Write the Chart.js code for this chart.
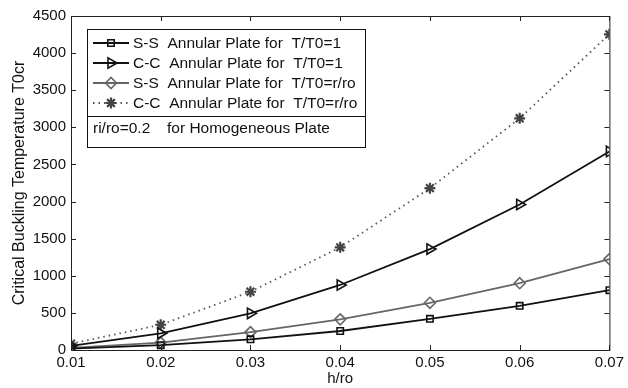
<!DOCTYPE html>
<html>
<head>
<meta charset="utf-8">
<script src="https://cdn.jsdelivr.net/npm/chart.js@4.4.1/dist/chart.umd.min.js"></script>
<style>
  html, body { margin: 0; padding: 0; background: #fff; }
  #wrap { width: 628px; height: 388px; }
</style>
</head>
<body>
<div id="wrap"><canvas id="buckling-chart" width="628" height="388"></canvas></div>
<script>
// values
const hRatio = [0.01, 0.02, 0.03, 0.04, 0.05, 0.06, 0.07];
const ssUniform = [18, 65, 144, 256, 420, 595, 806];
const ccUniform = [55, 225, 494, 876, 1360, 1960, 2675];
const ssLinear = [28, 100, 240, 413, 636, 900, 1225];
const ccLinear = [85, 340, 785, 1383, 2180, 3122, 4253];
const yTicks = [0, 500, 1000, 1500, 2000, 2500, 3000, 3500, 4000, 4500];
const xTicks = [0.01, 0.02, 0.03, 0.04, 0.05, 0.06, 0.07];
const legendLabels = [
  'S-S  Annular Plate for  T/T0=1',
  'C-C  Annular Plate for  T/T0=1',
  'S-S  Annular Plate for  T/T0=r/ro',
  'C-C  Annular Plate for  T/T0=r/ro'
];
const noteLeft = 'ri/ro=0.2';
const noteRight = 'for Homogeneous Plate';

const FONT = '"Liberation Sans", Arial, sans-serif';

const toPoints = vals => vals.map((v, i) => ({ x: hRatio[i], y: v }));

const datasets = [
  {
    label: legendLabels[0], data: toPoints(ssUniform),
    borderColor: '#111', borderWidth: 1.8, pointStyle: 'rect', pointRadius: 4.5,
    pointBorderColor: '#111', pointBackgroundColor: 'rgba(0,0,0,0)', pointBorderWidth: 1.6
  },
  {
    label: legendLabels[1], data: toPoints(ccUniform),
    borderColor: '#111', borderWidth: 1.8, pointStyle: 'triangle', pointRotation: 90, pointRadius: 6,
    pointBorderColor: '#111', pointBackgroundColor: 'rgba(0,0,0,0)', pointBorderWidth: 1.6
  },
  {
    label: legendLabels[2], data: toPoints(ssLinear),
    borderColor: '#666', borderWidth: 1.8, pointStyle: 'rectRot', pointRadius: 5.5,
    pointBorderColor: '#666', pointBackgroundColor: 'rgba(0,0,0,0)', pointBorderWidth: 1.6
  },
  {
    label: legendLabels[3], data: toPoints(ccLinear),
    borderColor: '#555', borderWidth: 1.8, borderDash: [1.5, 4], pointStyle: 'star', pointRadius: 5.5,
    pointBorderColor: '#444', pointBackgroundColor: '#444', pointBorderWidth: 2.2
  }
];

// box, inward ticks and the framed legend, MATLAB style
const matlabFrame = {
  id: 'matlabFrame',
  afterDatasetsDraw(chart) {
    const { ctx, chartArea: a, scales } = chart;
    ctx.save();
    ctx.strokeStyle = '#222';
    ctx.lineWidth = 1;
    ctx.strokeRect(a.left + 0.5, a.top + 0.5, a.right - a.left, a.bottom - a.top);
    ctx.beginPath();
    xTicks.forEach(t => {
      const x = Math.round(scales.x.getPixelForValue(t)) + 0.5;
      ctx.moveTo(x, a.bottom); ctx.lineTo(x, a.bottom - 5);
      ctx.moveTo(x, a.top); ctx.lineTo(x, a.top + 5);
    });
    yTicks.forEach(t => {
      const y = Math.round(scales.y.getPixelForValue(t)) + 0.5;
      ctx.moveTo(a.left, y); ctx.lineTo(a.left + 5, y);
      ctx.moveTo(a.right, y); ctx.lineTo(a.right - 5, y);
    });
    ctx.stroke();

    // legend
    const bx = 87.5, by = 29.5, bw = 278, bh = 118;
    ctx.fillStyle = '#fff';
    ctx.fillRect(bx, by, bw, bh);
    ctx.strokeStyle = '#111';
    ctx.strokeRect(bx, by, bw, bh);
    ctx.beginPath();
    ctx.moveTo(bx, 116.5); ctx.lineTo(bx + bw, 116.5);
    ctx.stroke();

    ctx.font = '15.5px ' + FONT;
    ctx.textBaseline = 'middle';
    ctx.textAlign = 'left';
    chart.data.datasets.forEach((ds, i) => {
      const y = 43 + i * 20;
      ctx.save();
      ctx.strokeStyle = ds.borderColor;
      ctx.lineWidth = ds.borderWidth;
      ctx.setLineDash(ds.borderDash || []);
      ctx.beginPath();
      ctx.moveTo(93, y); ctx.lineTo(129, y);
      ctx.stroke();
      ctx.setLineDash([]);
      ctx.strokeStyle = ds.pointBorderColor;
      ctx.fillStyle = ds.pointBackgroundColor;
      ctx.lineWidth = ds.pointBorderWidth;
      Chart.helpers.drawPoint(ctx, {
        pointStyle: ds.pointStyle, radius: ds.pointRadius,
        rotation: ds.pointRotation || 0, borderWidth: ds.pointBorderWidth
      }, 111, y);
      ctx.restore();
      ctx.fillStyle = '#111';
      ctx.fillText(ds.label, 133, y + 1);
    });
    ctx.fillStyle = '#111';
    ctx.fillText(noteLeft, 93, 129);
    ctx.fillText(noteRight, 167, 129);
    ctx.restore();
  }
};

new Chart(document.getElementById('buckling-chart'), {
  type: 'line',
  data: { datasets },
  options: {
    responsive: false,
    animation: false,
    layout: { padding: { top: 16, right: 18, left: 0, bottom: 0 } },
    plugins: { legend: { display: false }, tooltip: { enabled: false } },
    scales: {
      x: {
        type: 'linear', min: 0.01, max: 0.07,
        afterBuildTicks: s => { s.ticks = xTicks.map(v => ({ value: v })); },
        afterFit: s => { s.height = 38; },
        grid: { display: false, drawTicks: false },
        border: { display: false },
        ticks: {
          color: '#111', font: { family: FONT, size: 15 }, padding: 4,
          callback: v => v.toFixed(2), maxRotation: 0
        },
        title: {
          display: true, text: 'h/ro', color: '#111',
          font: { family: FONT, size: 15 }, padding: { top: 0, bottom: 0 }
        }
      },
      y: {
        min: 0, max: 4500,
        afterBuildTicks: s => { s.ticks = yTicks.map(v => ({ value: v })); },
        afterFit: s => { s.width = 71; },
        grid: { display: false, drawTicks: false },
        border: { display: false },
        ticks: {
          color: '#111', font: { family: FONT, size: 15 }, padding: 5,
          callback: v => String(v)
        },
        title: {
          display: true, text: 'Critical Buckling Temperature T0cr', color: '#111',
          font: { family: FONT, size: 16 }, padding: { top: 10, bottom: 0 }
        }
      }
    }
  },
  plugins: [matlabFrame]
});
</script>
</body>
</html>
